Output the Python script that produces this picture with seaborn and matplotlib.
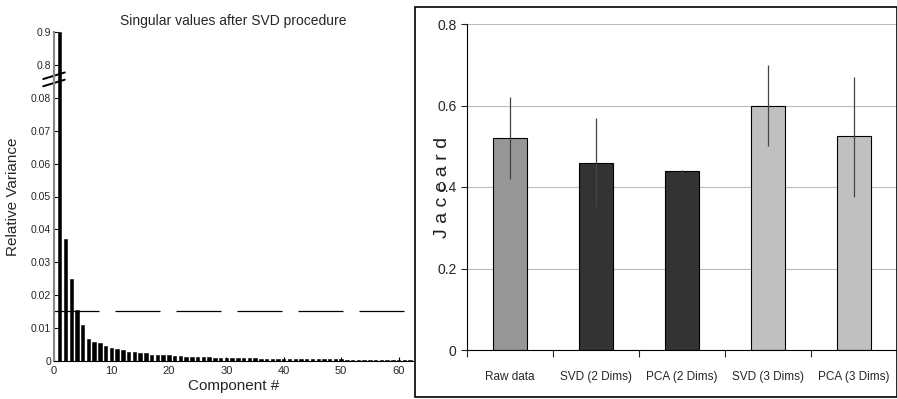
import numpy as np
import pandas as pd
import seaborn as sns
import matplotlib.pyplot as plt
from matplotlib.patches import Rectangle

sns.set_style("white")
plt.rcParams['font.family'] = ['Liberation Sans', 'DejaVu Sans']

# left: relative variance of each component
components = list(range(1, 63))
variance = [0.9, 0.037, 0.025, 0.0155, 0.0108, 0.0066, 0.0057, 0.0055, 0.0046, 0.0038,
            0.0035, 0.0032, 0.0027, 0.0027, 0.0024, 0.0024, 0.0017, 0.0017, 0.0017, 0.0017,
            0.0015, 0.0014, 0.0012, 0.0012, 0.0012, 0.0011, 0.0011, 0.0009, 0.0009, 0.0009,
            0.0008, 0.0008, 0.0008, 0.0008, 0.0008, 0.0007, 0.0007, 0.0006, 0.0006, 0.0006,
            0.0005, 0.0005, 0.0005, 0.0005, 0.0005, 0.0005, 0.0005, 0.0005, 0.0005, 0.0005,
            0.0004, 0.0003, 0.0003, 0.0003, 0.0003, 0.0003, 0.0003, 0.0003, 0.0003, 0.0003,
            0.0003, 0.0003]
threshold = 0.0153

# right: jaccard scores
methods = ['Raw data', 'SVD (2 Dims)', 'PCA (2 Dims)', 'SVD (3 Dims)', 'PCA (3 Dims)']
jaccard = [0.52, 0.46, 0.44, 0.60, 0.525]
err_lo = [0.42, 0.35, 0.438, 0.50, 0.375]
err_hi = [0.62, 0.57, 0.442, 0.70, 0.67]
bar_colors = ['#969696', '#333333', '#333333', '#c0c0c0', '#c0c0c0']


# broken y axis: 0..0.085 linear, 0.8..0.9 squeezed on top
def fwd(y):
    y = np.asarray(y, dtype=float)
    return np.where(y <= 0.085, y,
                    np.where(y >= 0.8, 0.09 + (y - 0.8) * 0.1,
                             0.085 + (y - 0.085) * 0.005 / 0.715))


def inv(v):
    v = np.asarray(v, dtype=float)
    return np.where(v <= 0.085, v,
                    np.where(v >= 0.09, 0.8 + (v - 0.09) * 10,
                             0.085 + (v - 0.085) * 0.715 / 0.005))


fig = plt.figure(figsize=(8.97, 3.99), dpi=100)

# ---- left chart
ax1 = fig.add_axes([54 / 897, 38 / 399, 359 / 897, 329 / 399])
ax1.bar(components, variance, width=0.6, color='black', edgecolor='black', linewidth=0.4)
ax1.set_yscale('function', functions=(fwd, inv))
ax1.set_ylim(0, 0.9)
ax1.set_xlim(0, 62.5)
ax1.axhline(threshold, xmax=0.985, color='black', lw=0.9, dashes=(36, 12.8))
ax1.set_yticks([0, 0.01, 0.02, 0.03, 0.04, 0.05, 0.06, 0.07, 0.08, 0.8, 0.9])
ax1.set_yticklabels(['0', '0.01', '0.02', '0.03', '0.04', '0.05', '0.06', '0.07', '0.08', '0.8', '0.9'])
ax1.set_xticks([0, 10, 20, 30, 40, 50, 60])
ax1.tick_params(direction='in', length=3, color='black', left=True, bottom=True)
ax1.tick_params(axis='y', labelsize=7.5, pad=2)
ax1.tick_params(axis='x', labelsize=8)
for s in ['top', 'right']:
    ax1.spines[s].set_visible(False)
ax1.spines['left'].set_color('#888888')
ax1.spines['left'].set_linewidth(1.5)
ax1.spines['bottom'].set_color('black')
ax1.set_xlabel('Component #', fontsize=11, labelpad=2)
ax1.set_ylabel('Relative Variance', fontsize=11, labelpad=8)
ax1.set_title('Singular values after SVD procedure', fontsize=10, pad=5)
# axis break marks
for dy in (0.0, 0.022):
    ax1.plot([-0.03, 0.03], [0.835 + dy, 0.855 + dy], color='black', lw=1.4,
             clip_on=False, transform=ax1.transAxes)

# ---- right chart
fig.patches.append(Rectangle((415 / 897, 2 / 399), 482 / 897, 390 / 399, transform=fig.transFigure,
                             fill=False, edgecolor='black', lw=1.2))
ax2 = fig.add_axes([467 / 897, 49 / 399, 430 / 897, 326 / 399])
df = pd.DataFrame({'method': methods, 'jaccard': jaccard})
sns.barplot(data=df, x='method', y='jaccard', hue='method', palette=bar_colors, legend=False,
            width=0.4, edgecolor='black', linewidth=0.8, ax=ax2)
yerr = [np.array(jaccard) - np.array(err_lo), np.array(err_hi) - np.array(jaccard)]
ax2.errorbar(range(len(methods)), jaccard, yerr=yerr, fmt='none', ecolor='#444444', elinewidth=0.9)
ax2.set_xlim(-0.5, 4.5)
ax2.set_ylim(0, 0.8)
ax2.set_yticks([0, 0.2, 0.4, 0.6, 0.8])
ax2.set_yticklabels(['0', '0.2', '0.4', '0.6', '0.8'])
ax2.grid(axis='y', color='#bbbbbb', lw=0.8)
ax2.set_axisbelow(True)
ax2.set_xticks([-0.5, 0.5, 1.5, 2.5, 3.5, 4.5])
ax2.set_xticklabels([])
ax2.set_xticks(range(len(methods)), minor=True)
ax2.set_xticklabels(methods, minor=True, fontsize=8.5)
ax2.tick_params(axis='x', which='major', direction='out', length=5, bottom=True)
ax2.tick_params(axis='x', which='minor', length=0, pad=15)
ax2.tick_params(axis='y', direction='out', length=4, left=True, labelsize=10)
for s in ['top', 'right']:
    ax2.spines[s].set_visible(False)
ax2.spines['left'].set_color('black')
ax2.spines['bottom'].set_color('black')
ax2.set_xlabel('')
ax2.set_ylabel('J a c c a r d', fontsize=14, labelpad=-10, color='#222222')

plt.savefig('out.png', dpi=100)
